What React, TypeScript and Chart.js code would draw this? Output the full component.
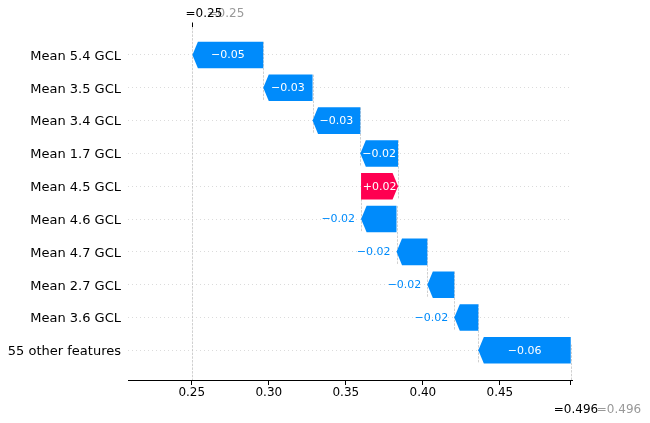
import React, { useEffect, useRef } from "react";
import { Chart, registerables } from "chart.js";

Chart.register(...registerables);

// ---- data ----
const features = [
  "Mean 5.4 GCL",
  "Mean 3.5 GCL",
  "Mean 3.4 GCL",
  "Mean 1.7 GCL",
  "Mean 4.5 GCL",
  "Mean 4.6 GCL",
  "Mean 4.7 GCL",
  "Mean 2.7 GCL",
  "Mean 3.6 GCL",
  "55 other features",
];
const shapValues = [-0.046, -0.032, -0.031, -0.0245, 0.024, -0.023, -0.02, -0.0175, -0.0156, -0.06];
const baseValue = 0.496;
const xTickValues = [0.25, 0.3, 0.35, 0.4, 0.45];

// cumulative positions, built from the bottom row up
const starts: number[] = new Array(features.length).fill(0);
const ends: number[] = new Array(features.length).fill(0);
let cum = baseValue;
for (let i = features.length - 1; i >= 0; i--) {
  starts[i] = cum;
  ends[i] = cum + shapValues[i];
  cum = ends[i];
}
const fxValue = cum;

const BLUE = "#008bfb";
const RED = "#ff0051";
const FONT = "DejaVu Sans";

const fmt = (v: number) => (v < 0 ? "\u2212" : "+") + Math.abs(v).toFixed(2);

const waterfallPlugin = {
  id: "waterfall",
  beforeDatasetsDraw(chart: any) {
    const { ctx, chartArea, scales } = chart;
    const x = scales.x;
    const y = scales.y;
    ctx.save();
    ctx.strokeStyle = "#bbbbbb";
    ctx.lineWidth = 0.7;
    ctx.setLineDash([2.5, 1.2]);
    for (let i = 0; i < features.length - 1; i++) {
      const px = Math.round(x.getPixelForValue(starts[i])) + 0.5;
      ctx.beginPath();
      ctx.moveTo(px, y.getPixelForValue(i - 0.4));
      ctx.lineTo(px, y.getPixelForValue(i + 1 + 0.4));
      ctx.stroke();
    }
    const fxPx = Math.round(x.getPixelForValue(fxValue)) + 0.5;
    ctx.beginPath();
    ctx.moveTo(fxPx, chartArea.top);
    ctx.lineTo(fxPx, chartArea.bottom);
    ctx.stroke();
    const bPx = Math.round(x.getPixelForValue(baseValue)) + 0.5;
    ctx.beginPath();
    ctx.moveTo(bPx, chartArea.bottom);
    ctx.lineTo(bPx, chartArea.bottom - (chartArea.bottom - chartArea.top) / features.length);
    ctx.stroke();
    ctx.restore();
  },
  afterDatasetsDraw(chart: any) {
    const { ctx, scales } = chart;
    const x = scales.x;
    const y = scales.y;
    const meta = chart.getDatasetMeta(0);
    ctx.save();
    ctx.font = `11px "${FONT}"`;
    ctx.textBaseline = "middle";
    features.forEach((_, i) => {
      const el = meta.data[i];
      const h = el ? el.getProps(["height"], true).height : 26;
      const cy = y.getPixelForValue(i);
      const xs = x.getPixelForValue(starts[i]);
      const xe = x.getPixelForValue(ends[i]);
      const v = shapValues[i];
      const w = Math.abs(xe - xs);
      const hl = Math.min(5.5, w);
      const top = cy - h / 2;
      const bot = cy + h / 2;
      const dir = v < 0 ? -1 : 1;
      ctx.fillStyle = v < 0 ? BLUE : RED;
      ctx.beginPath();
      ctx.moveTo(xs, top);
      ctx.lineTo(xe - dir * hl, top);
      ctx.lineTo(xe, cy);
      ctx.lineTo(xe - dir * hl, bot);
      ctx.lineTo(xs, bot);
      ctx.closePath();
      ctx.fill();

      const label = fmt(v);
      const tw = ctx.measureText(label).width;
      if (tw + 2.5 < w) {
        ctx.fillStyle = "#ffffff";
        ctx.textAlign = "center";
        ctx.fillText(label, (xs + xe) / 2, cy + 0.5);
      } else {
        ctx.fillStyle = v < 0 ? BLUE : RED;
        if (v < 0) {
          ctx.textAlign = "right";
          ctx.fillText(label, Math.min(xs, xe) - 6, cy + 0.5);
        } else {
          ctx.textAlign = "left";
          ctx.fillText(label, Math.max(xs, xe) + 6, cy + 0.5);
        }
      }
    });
    ctx.restore();
  },
  afterDraw(chart: any) {
    const { ctx, chartArea, scales } = chart;
    const x = scales.x;
    const fxPx = Math.round(x.getPixelForValue(fxValue)) + 0.5;
    const bPx = x.getPixelForValue(baseValue);
    ctx.save();
    ctx.strokeStyle = "#000";
    ctx.lineWidth = 1;
    ctx.beginPath();
    ctx.moveTo(fxPx, chartArea.top - 4.5);
    ctx.lineTo(fxPx, chartArea.top);
    ctx.stroke();

    ctx.font = `12px "${FONT}"`;
    ctx.textBaseline = "alphabetic";
    ctx.textAlign = "left";
    const fxLabel = "=" + fxValue.toFixed(2);
    const baseLabel = "=" + baseValue.toFixed(3);
    ctx.fillStyle = "#999999";
    ctx.fillText(fxLabel, fxPx + 15, chartArea.top - 10);
    ctx.fillText(baseLabel, bPx + 26, chartArea.bottom + 33);
    ctx.fillStyle = "#000000";
    ctx.fillText(fxLabel, fxPx - 7, chartArea.top - 10);
    ctx.fillText(baseLabel, bPx - 17, chartArea.bottom + 33);
    ctx.restore();
  },
};

export default function App() {
  const ref = useRef<HTMLCanvasElement | null>(null);

  useEffect(() => {
    if (!ref.current) return;
    const chart = new Chart(ref.current, {
      type: "bar",
      data: {
        labels: features,
        datasets: [
          {
            data: features.map((_, i) => ({ x: [starts[i], ends[i]], y: i })) as any,
            backgroundColor: "rgba(0,0,0,0)",
            borderWidth: 0,
            barPercentage: 0.81,
            categoryPercentage: 1,
          },
        ],
      },
      options: {
        animation: false,
        responsive: false,
        maintainAspectRatio: false,
        indexAxis: "y",
        layout: { padding: { top: 27, right: 78, left: 0, bottom: 0 } },
        plugins: { legend: { display: false }, tooltip: { enabled: false } },
        scales: {
          x: {
            type: "linear",
            position: "bottom",
            min: 0.2086,
            max: 0.4968,
            afterBuildTicks: (s: any) => {
              s.ticks = [...xTickValues, baseValue].map((v) => ({ value: v }));
            },
            afterFit: (s: any) => {
              s.height = 43;
            },
            grid: { drawOnChartArea: false, drawTicks: true, tickLength: 5, color: "#000", lineWidth: 1 },
            border: { display: true, color: "#000", width: 1 },
            ticks: {
              autoSkip: false,
              maxRotation: 0,
              padding: 1,
              color: "#000",
              font: { family: FONT, size: 12 },
              callback: (v: any) => (xTickValues.includes(v) ? Number(v).toFixed(2) : ""),
            },
          },
          y: {
            type: "linear",
            reverse: true,
            offset: false,
            min: -0.853,
            max: 9.905,
            afterBuildTicks: (s: any) => {
              s.ticks = features.map((_, i) => ({ value: i }));
            },
            afterFit: (s: any) => {
              s.width = 128;
            },
            grid: { offset: false, drawTicks: false, color: "#cccccc", lineWidth: 0.7 },
            border: { display: false, dash: [1, 3] },
            ticks: {
              padding: 7,
              labelOffset: 1.5,
              color: "#000",
              font: { family: FONT, size: 13 },
              callback: (v: any) => features[v] ?? "",
            },
          },
        },
      } as any,
      plugins: [waterfallPlugin],
    });
    return () => chart.destroy();
  }, []);

  return (
    <div style={{ position: "fixed", left: 0, top: 0, width: 650, height: 423, background: "#fff" }}>
      <canvas ref={ref} width={650} height={423} style={{ width: 650, height: 423, display: "block" }} />
    </div>
  );
}
